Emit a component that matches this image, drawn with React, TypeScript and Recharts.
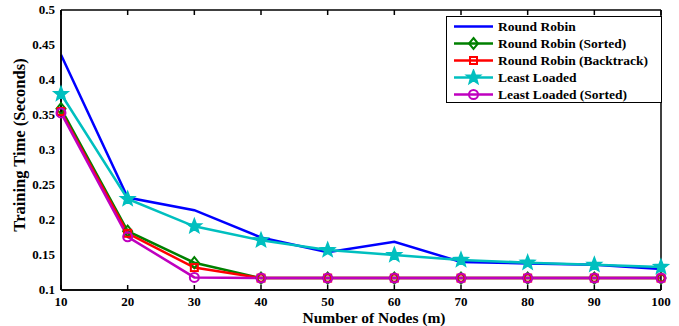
import React from 'react'
import { LineChart, Line, XAxis, YAxis, Legend } from 'recharts'

const nodes = [10, 20, 30, 40, 50, 60, 70, 80, 90, 100]
const roundRobin = [0.436, 0.232, 0.214, 0.175, 0.154, 0.169, 0.14, 0.138, 0.136, 0.13]
const roundRobinSorted = [0.359, 0.184, 0.139, 0.117, 0.117, 0.117, 0.117, 0.117, 0.117, 0.117]
const roundRobinBacktrack = [0.355, 0.181, 0.132, 0.117, 0.117, 0.117, 0.117, 0.117, 0.117, 0.117]
const leastLoaded = [0.38, 0.23, 0.191, 0.171, 0.157, 0.15, 0.143, 0.139, 0.136, 0.133]
const leastLoadedSorted = [0.353, 0.176, 0.118, 0.117, 0.117, 0.117, 0.117, 0.117, 0.117, 0.117]

const xTicks = [10, 20, 30, 40, 50, 60, 70, 80, 90, 100]
const yTicks = [0.1, 0.15, 0.2, 0.25, 0.3, 0.35, 0.4, 0.45, 0.5]

const data = nodes.map((n, i) => ({
  n,
  rr: roundRobin[i],
  rrs: roundRobinSorted[i],
  rrb: roundRobinBacktrack[i],
  ll: leastLoaded[i],
  lls: leastLoadedSorted[i],
}))

type Kind = 'none' | 'diamond' | 'square' | 'star' | 'circle'

const series: { key: string; name: string; color: string; marker: Kind }[] = [
  { key: 'rr', name: 'Round Robin', color: '#0000ff', marker: 'none' },
  { key: 'rrs', name: 'Round Robin (Sorted)', color: '#008000', marker: 'diamond' },
  { key: 'rrb', name: 'Round Robin (Backtrack)', color: '#ff0000', marker: 'square' },
  { key: 'll', name: 'Least Loaded', color: '#00bfbf', marker: 'star' },
  { key: 'lls', name: 'Least Loaded (Sorted)', color: '#bf00bf', marker: 'circle' },
]

const FONT = '"Liberation Serif", "Times New Roman", serif'

function Marker({ kind, cx, cy, color }: { kind: Kind; cx: number; cy: number; color: string }) {
  if (kind === 'diamond') {
    return (
      <polygon
        points={`${cx},${cy - 5.5} ${cx + 4.5},${cy} ${cx},${cy + 5.5} ${cx - 4.5},${cy}`}
        fill="none" stroke={color} strokeWidth={2}
      />
    )
  }
  if (kind === 'square') {
    return <rect x={cx - 3.5} y={cy - 3.5} width={7} height={7} fill="none" stroke={color} strokeWidth={2} />
  }
  if (kind === 'circle') {
    return <circle cx={cx} cy={cy} r={4.5} fill="none" stroke={color} strokeWidth={2} />
  }
  if (kind === 'star') {
    const pts: string[] = []
    for (let k = 0; k < 10; k++) {
      const r = k % 2 === 0 ? 7.5 : 3.2
      const a = -Math.PI / 2 + (k * Math.PI) / 5
      pts.push(`${cx + r * Math.cos(a)},${cy + r * Math.sin(a)}`)
    }
    return <polygon points={pts.join(' ')} fill={color} stroke={color} strokeWidth={1.5} />
  }
  return null
}

function renderLegend() {
  return (
    <div
      style={{
        border: '1px solid #000', background: '#fff', boxSizing: 'border-box',
        width: 216, height: 87, paddingTop: 1, fontFamily: FONT,
      }}
    >
      {series.map((s) => (
        <div key={s.key} style={{ display: 'flex', alignItems: 'center', height: 17 }}>
          <svg width={49} height={17}>
            <line x1={7} y1={8.5} x2={46} y2={8.5} stroke={s.color} strokeWidth={2.5} />
            <Marker kind={s.marker} cx={26.5} cy={8.5} color={s.color} />
          </svg>
          <span style={{ fontSize: 13.5, fontWeight: 'bold', whiteSpace: 'nowrap', marginLeft: 2 }}>
            {s.name}
          </span>
        </div>
      ))}
    </div>
  )
}

const tickFont = { fontFamily: FONT, fontSize: 13, fontWeight: 'bold' }
const titleFont = { fontFamily: FONT, fontSize: 16.5, fontWeight: 'bold' }
const xTitleFont = { fontFamily: FONT, fontSize: 15.5, fontWeight: 'bold' }

const XTick = (p: any) => (
  <text x={p.x} y={p.y + 15.5} textAnchor="middle" fill="#000" style={tickFont}>
    {p.payload.value}
  </text>
)

const YTick = (p: any) => (
  <text x={p.x} y={p.y + 4} textAnchor="end" fill="#000" style={tickFont}>
    {p.payload.value}
  </text>
)

const XTitle = (p: any) => {
  const vb = p.viewBox
  return (
    <text x={vb.x + vb.width / 2 + 13} y={322.5} textAnchor="middle" fill="#000" style={xTitleFont}>
      Number of Nodes (m)
    </text>
  )
}

const YTitle = (p: any) => {
  const vb = p.viewBox
  const cy = vb.y + vb.height / 2 - 5
  return (
    <text x={25} y={cy} transform={`rotate(-90, 25, ${cy})`} textAnchor="middle" fill="#000" style={titleFont}>
      Training Time (Seconds)
    </text>
  )
}

const axisLine = { stroke: '#000', strokeWidth: 1.5 }
const blank = () => ''

export default function App() {
  return (
    <div style={{ position: 'absolute', left: 0, top: 0, background: '#fff', fontFamily: FONT }}>
      <LineChart width={679} height={326} data={data} margin={{ top: 10, right: 18, left: 0, bottom: 0 }}>
        <XAxis
          dataKey="n" type="number" domain={[10, 100]} ticks={xTicks}
          height={36} tickLine={false} tickSize={0} tickMargin={0}
          axisLine={axisLine} tick={XTick}
          label={{ content: XTitle }}
        />
        <XAxis
          xAxisId="bt" dataKey="n" type="number" domain={[10, 100]} ticks={xTicks}
          mirror tickSize={5} tickFormatter={blank} axisLine={axisLine} tickLine={axisLine}
        />
        <XAxis
          xAxisId="t" orientation="top" dataKey="n" type="number" domain={[10, 100]} ticks={xTicks}
          mirror tickSize={5} tickFormatter={blank} axisLine={axisLine} tickLine={axisLine}
        />
        <YAxis
          type="number" domain={[0.1, 0.5]} ticks={yTicks} width={61}
          tickLine={false} tickSize={0} tickMargin={6} axisLine={axisLine} tick={YTick}
          allowDataOverflow
          label={{ content: YTitle }}
        />
        <YAxis
          yAxisId="lt" type="number" domain={[0.1, 0.5]} ticks={yTicks}
          mirror tickSize={5} tickFormatter={blank} axisLine={axisLine} tickLine={axisLine}
        />
        <YAxis
          yAxisId="r" orientation="right" type="number" domain={[0.1, 0.5]} ticks={yTicks}
          mirror tickSize={5} tickFormatter={blank} axisLine={axisLine} tickLine={axisLine}
        />
        {series.map((s) => (
          <Line
            key={s.key} dataKey={s.key} name={s.name} stroke={s.color} strokeWidth={2.5}
            isAnimationActive={false} activeDot={false}
            dot={(p: any) => (
              <Marker key={`${s.key}-${p.index}`} kind={s.marker} cx={p.cx} cy={p.cy} color={s.color} />
            )}
          />
        ))}
        <Legend
          layout="horizontal" verticalAlign="middle" align="center"
          content={renderLegend}
          wrapperStyle={{ left: 446, top: 16, width: 216, height: 87 }}
        />
      </LineChart>
    </div>
  )
}
